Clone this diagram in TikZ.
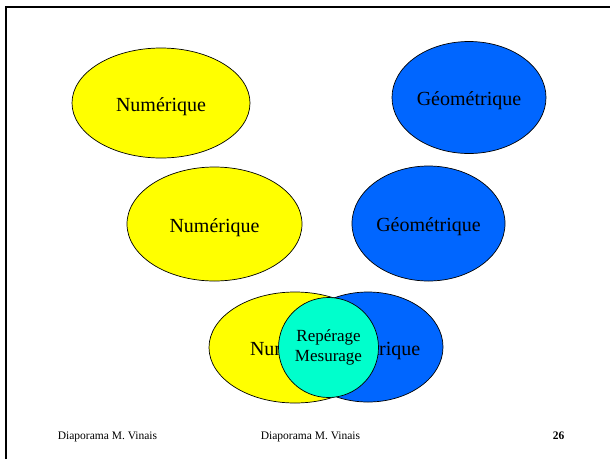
\documentclass[tikz,border=0pt]{standalone}
\usepackage{fontspec}
\setmainfont{Liberation Serif}
\usetikzlibrary{shapes.geometric}
\definecolor{yel}{RGB}{255,255,0}
\definecolor{blu}{RGB}{0,102,255}
\definecolor{cya}{RGB}{0,255,204}
\begin{document}
\begin{tikzpicture}[x=1pt,y=-1pt,
  oval/.style={ellipse, draw=black, line width=0.7pt, inner sep=0pt, text height=20pt, text depth=4pt, font=\fontsize{20}{24}\selectfont},
  yoval/.style={oval, fill=yel},
  boval/.style={oval, fill=blu},
  mid/.style={circle, draw=black, line width=0.7pt, fill=cya, inner sep=0pt, minimum size=100pt, align=center, font=\fontsize{17}{20}\selectfont},
  foot/.style={anchor=base, inner sep=0pt, font=\fontsize{11.5}{13}\selectfont}
]
\useasboundingbox (0,0) rectangle (610,459);
\draw[line width=2pt] (6,459) -- (6,7) -- (610,7);

\node[yoval, minimum width=178pt, minimum height=110pt] (n1) at (161,103) {Numérique};
\node[boval, minimum width=154pt, minimum height=112pt] (g1) at (469,97.5) {Géométrique};
\node[yoval, minimum width=175pt, minimum height=114pt] (n2) at (214.5,224) {Numérique};
\node[boval, minimum width=153pt, minimum height=115pt] (g2) at (428.5,223.5) {Géométrique};

\node[yoval, minimum width=172pt, minimum height=111pt] (n3) at (295,347.5) {Numérique};
\node[boval, minimum width=150pt, minimum height=110pt] (g3) at (368,347) {Géométrique};
\node[mid] (rm) at (328.5,347.5) {Repérage\\Mesurage};

\node[foot] (f1) at (107.5,439) {Diaporama M. Vinais};
\node[foot] (f2) at (310.5,439) {Diaporama M. Vinais};
\node[foot, font=\fontsize{11.5}{13}\selectfont\bfseries] (pg) at (558.5,439) {26};
\end{tikzpicture}
\end{document}
